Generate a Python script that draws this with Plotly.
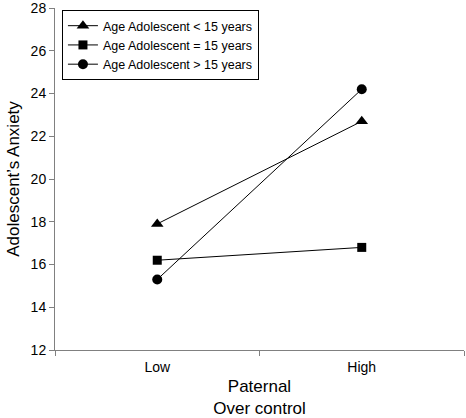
import plotly.graph_objects as go

categories = ["Low", "High"]
series_names = ["Age Adolescent < 15 years", "Age Adolescent = 15 years", "Age Adolescent > 15 years"]
under15 = [17.9, 22.7]
equal15 = [16.2, 16.8]
over15 = [15.3, 24.2]
y_ticks = [12, 14, 16, 18, 20, 22, 24, 26, 28]

symbols = ["triangle-up", "square", "circle"]
sizes = [11, 9, 10]
values = [under15, equal15, over15]

fig = go.Figure()
for name, vals, sym, sz in zip(series_names, values, symbols, sizes):
    fig.add_trace(go.Scatter(
        x=categories, y=vals, name=name, mode="lines+markers",
        line=dict(color="black", width=1),
        marker=dict(symbol=sym, size=sz, color="black"),
    ))

fig.update_layout(
    width=466, height=418,
    margin=dict(l=55, r=2, t=8, b=68),
    plot_bgcolor="white", paper_bgcolor="white",
    font=dict(family="Liberation Sans, Arial, sans-serif", color="black", size=14),
    showlegend=True,
    legend=dict(
        x=0.017, y=0.994, xanchor="left", yanchor="top",
        bordercolor="black", borderwidth=1, bgcolor="white",
        font=dict(size=12.5), itemwidth=30, tracegroupgap=0,
    ),
    xaxis=dict(
        type="category", range=[-0.5, 1.5], automargin=False,
        showline=True, linecolor="#808080", linewidth=1,
        ticks="outside", tickson="boundaries", tickcolor="#808080", ticklen=5,
        ticklabelstandoff=4,
        showgrid=False, zeroline=False,
        title=dict(text="Paternal<br>Over control", font=dict(size=17), standoff=10),
    ),
    yaxis=dict(
        range=[12, 28], tickvals=y_ticks, automargin=False,
        ticklabeloverflow="allow",
        showline=True, linecolor="#808080", linewidth=1,
        ticks="outside", tickcolor="#808080", ticklen=5,
        showgrid=False, zeroline=False,
        title=dict(text="Adolescent’s Anxiety", font=dict(size=17), standoff=6),
    ),
)

fig.write_html(
    "out.html",
    config={"displayModeBar": False},
    post_script="document.body.style.margin='0';document.body.style.overflow='hidden';",
)
